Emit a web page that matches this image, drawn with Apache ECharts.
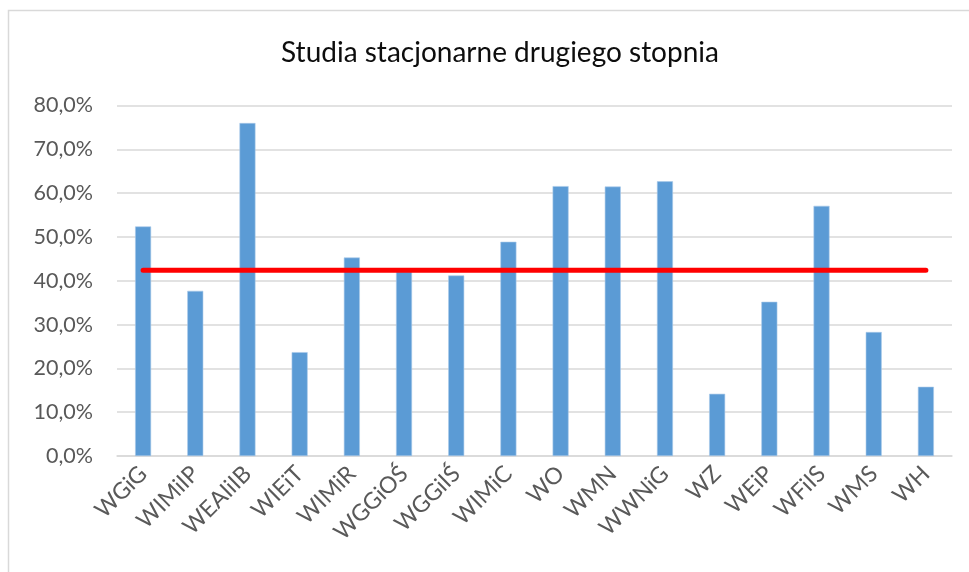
<!DOCTYPE html>
<html>
<head>
<meta charset="utf-8">
<script src="https://cdn.jsdelivr.net/npm/echarts@6/dist/echarts.min.js"></script>
<style>html,body{margin:0;padding:0;background:#fff;}#c{width:969px;height:572px;}</style>
</head>
<body>
<div id="c"></div>
<script>
const titleText = 'Studia stacjonarne drugiego stopnia';
const categories = ['WGiG','WIMiIP','WEAIiIB','WIEiT','WIMiR','WGGiOŚ','WGGiIŚ','WIMiC','WO','WMN','WWNiG','WZ','WEiP','WFiIS','WMS','WH'];
const values = [52.4, 37.7, 76.0, 23.7, 45.3, 42.1, 41.2, 48.9, 61.6, 61.5, 62.7, 14.2, 35.2, 57.1, 28.3, 15.8];
const averageValue = 42.4;
const averageLine = categories.map(() => averageValue);
const yMin = 0, yMax = 80, yInterval = 10;

const chart = echarts.init(document.getElementById('c'), null, {renderer: 'canvas'});
const font = 'Lato, "Open Sans", sans-serif';
chart.setOption({
  backgroundColor: '#ffffff',
  animation: false,
  graphic: [{
    type: 'rect', shape: {x: 8.5, y: 10.5, width: 1000, height: 600},
    style: {fill: 'none', stroke: '#d9d9d9', lineWidth: 1.5}, z: -1
  }],
  title: {
    text: titleText, left: 495, top: 34, textAlign: 'center',
    textStyle: {fontFamily: font, fontSize: 28, fontWeight: 'normal', color: '#0d0d0d'}
  },
  grid: {left: 117, right: 17, top: 105.5, bottom: 116, containLabel: false},
  xAxis: {
    type: 'category', data: categories,
    axisLine: {lineStyle: {color: '#d9d9d9', width: 1.5}},
    axisTick: {show: false},
    axisLabel: {rotate: 45, interval: 0, margin: 14, fontFamily: font, fontSize: 23, color: '#595959'}
  },
  yAxis: {
    type: 'value', min: yMin, max: yMax, interval: yInterval,
    axisLine: {show: false}, axisTick: {show: false},
    splitLine: {lineStyle: {color: '#d9d9d9', width: 1.5}},
    axisLabel: {margin: 24, fontFamily: font, fontSize: 21.5, color: '#595959',
      formatter: v => v.toFixed(1).replace('.', ',') + '%'}
  },
  series: [
    {type: 'bar', data: values, barWidth: 16,
     itemStyle: {color: '#5b9bd5', borderColor: '#a9c9ea', borderWidth: 0.6}},
    {type: 'line', data: averageLine, symbol: 'none', z: 5,
     lineStyle: {color: '#ff0000', width: 5, cap: 'round'}}
  ]
});
</script>
</body>
</html>
